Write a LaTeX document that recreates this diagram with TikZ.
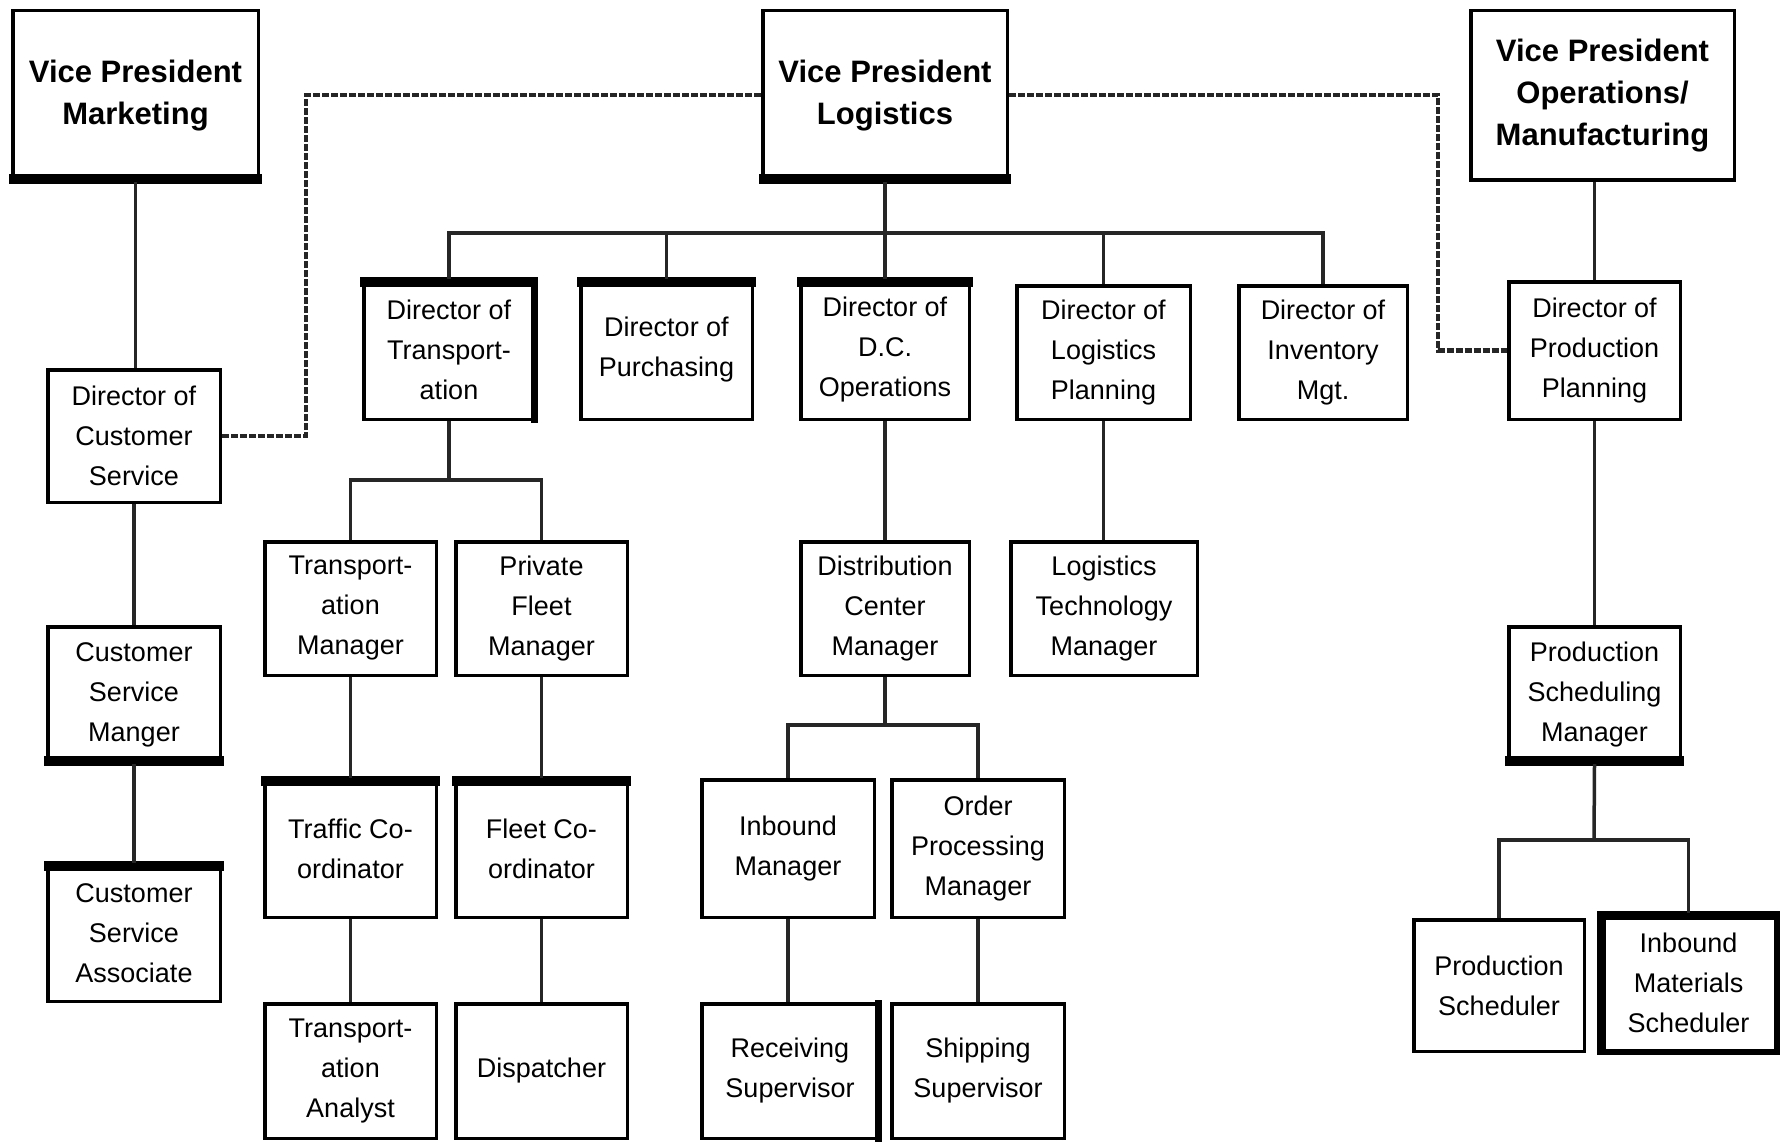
\documentclass[tikz,border=0pt]{standalone}
\usepackage{fontspec}
\setmainfont{Liberation Sans}
\newcommand\vpfont{\fontsize{31}{42}\selectfont\bfseries}
\newcommand\bxfont{\fontsize{27}{40}\selectfont}
\tikzset{
  box/.style={draw, line width=3.5pt, rectangle, inner sep=0pt, align=center, fill=white, font=\bxfont},
  vpbox/.style={box, font=\vpfont},
  conn/.style={line width=3.5pt, black!85},
  dline/.style={line width=4.5pt, black!85, dash pattern=on 7pt off 2pt}
}
% box from corners
\newcommand\bx[7]{\node[#6, minimum width={(#4-#2-3.5)*1pt}, minimum height={(#5-#3-3.5)*1pt}] (#1) at ({(#2+#4)/2},{(#3+#5)/2}) {#7};}
% thick edges
\newcommand\thkbottom[2]{\fill ([xshift=-1.75pt,yshift=-1.75pt]#1.south west) rectangle ([xshift=1.75pt,yshift=#2]#1.south east);}
\newcommand\thktop[2]{\fill ([xshift=-1.75pt,yshift=1.75pt]#1.north west) rectangle ([xshift=1.75pt,yshift=-#2]#1.north east);}
\newcommand\thkright[2]{\fill ([xshift=1.75pt,yshift=1.75pt]#1.north east) rectangle ([xshift=-#2,yshift=-1.75pt]#1.south east);}
\newcommand\thkleft[2]{\fill ([xshift=-1.75pt,yshift=1.75pt]#1.north west) rectangle ([xshift=#2,yshift=-1.75pt]#1.south west);}
\begin{document}
\begin{tikzpicture}[x=1pt,y=-1pt]
\fill[white] (0,0) rectangle (1787,1142);
\useasboundingbox (0,0) rectangle (1787,1142);

\coordinate (dl) at (306,95);
\coordinate (dr) at (1438,95);
\coordinate (bar) at (885,233);
\coordinate (tb) at (449,480);
\coordinate (db) at (885,725);
\coordinate (pb) at (1594,840);

% boxes
\bx{vpm}{11}{9}{260}{182}{vpbox}{Vice President\\Marketing}
\bx{vpl}{761}{9}{1009}{182}{vpbox}{Vice President\\Logistics}
\bx{vpo}{1469}{9}{1736}{182}{vpbox}{Vice President\\Operations/\\Manufacturing}
\bx{dcs}{46}{368}{222}{504}{box}{Director of\\Customer\\Service}
\bx{csm}{46}{625}{222}{764}{box}{Customer\\Service\\Manger}
\bx{csa}{46}{863}{222}{1003}{box}{Customer\\Service\\Associate}
\bx{dtr}{362}{279}{536}{421}{box}{Director of\\Transport-\\ation}
\bx{dpu}{579}{279}{754}{421}{box}{Director of\\Purchasing}
\bx{ddc}{799}{279}{971}{421}{box}{Director of\\D.C.\\Operations}
\bx{dlp}{1015}{284}{1192}{421}{box}{Director of\\Logistics\\Planning}
\bx{din}{1237}{284}{1409}{421}{box}{Director of\\Inventory\\Mgt.}
\bx{dpp}{1507}{280}{1682}{421}{box}{Director of\\Production\\Planning}
\bx{tm}{263}{540}{438}{677}{box}{Transport-\\ation\\Manager}
\bx{pfm}{454}{540}{629}{677}{box}{Private\\Fleet\\Manager}
\bx{tc}{263}{778}{438}{919}{box}{Traffic Co-\\ordinator}
\bx{fc}{454}{778}{629}{919}{box}{Fleet Co-\\ordinator}
\bx{ta}{263}{1002}{438}{1140}{box}{Transport-\\ation\\Analyst}
\bx{dsp}{454}{1002}{629}{1140}{box}{Dispatcher}
\bx{dcm}{799}{540}{971}{677}{box}{Distribution\\Center\\Manager}
\bx{ltm}{1009}{540}{1199}{677}{box}{Logistics\\Technology\\Manager}
\bx{ibm}{700}{778}{876}{919}{box}{Inbound\\Manager}
\bx{opm}{890}{778}{1066}{919}{box}{Order\\Processing\\Manager}
\bx{rs}{700}{1002}{880}{1140}{box}{Receiving\\Supervisor}
\bx{ss}{890}{1002}{1066}{1140}{box}{Shipping\\Supervisor}
\bx{psm}{1507}{625}{1682}{764}{box}{Production\\Scheduling\\Manager}
\bx{psch}{1412}{918}{1586}{1053}{box}{Production\\Scheduler}
\bx{ims}{1599}{913}{1778}{1053}{box}{Inbound\\Materials\\Scheduler}

% thick edges
\thkbottom{vpm}{8pt}
\thkbottom{vpl}{8pt}
\thktop{dtr}{8pt}
\thkright{dtr}{5pt}
\thktop{dpu}{8pt}
\thktop{ddc}{8pt}
\thkbottom{csm}{8pt}
\thktop{csa}{8pt}
\thktop{tc}{8pt}
\thktop{fc}{8pt}
\thkbottom{psm}{8pt}
\thkright{rs}{5pt}
\thkleft{ims}{7pt}
\thktop{ims}{7pt}
\thkright{ims}{4pt}
\thkbottom{ims}{4pt}

% solid connectors
\draw[conn] (vpm.south) -- (vpm.south |- dcs.north);
\draw[conn] (dcs.south) -- (csm.north);
\draw[conn] (csm.south) -- (csa.north);
\draw[conn] (vpl.south) -- (bar);
\draw[conn] (bar) -| (dtr.north);
\draw[conn] (bar) -| (dpu.north);
\draw[conn] (bar) -- (ddc.north);
\draw[conn] (bar) -| (dlp.north);
\draw[conn] (bar) -| (din.north);
\draw[conn] (dtr.south) -- (tb);
\draw[conn] (tb) -| (tm.north);
\draw[conn] (tb) -| (pfm.north);
\draw[conn] (tm.south) -- (tc.north);
\draw[conn] (tc.south) -- (ta.north);
\draw[conn] (pfm.south) -- (fc.north);
\draw[conn] (fc.south) -- (dsp.north);
\draw[conn] (ddc.south) -- (dcm.north);
\draw[conn] (dcm.south) -- (db);
\draw[conn] (db) -| (ibm.north);
\draw[conn] (db) -| (opm.north);
\draw[conn] (ibm.south) -- (ibm.south |- rs.north);
\draw[conn] (opm.south) -- (opm.south |- ss.north);
\draw[conn] (dlp.south) -- (dlp.south |- ltm.north);
\draw[conn] (dpp.north |- vpo.south) -- (dpp.north);
\draw[conn] (dpp.south) -- (psm.north);
\draw[conn] (psm.south) -- (pb);
\draw[conn] (pb) -| (psch.north);
\draw[conn] (pb) -| (ims.north);

% dashed staff links
\draw[dline] (dcs.east) -| (dl) -- (vpl.west |- dl);
\draw[dline] (vpl.east |- dr) -- (dr) |- (dpp.west);
\end{tikzpicture}
\end{document}
